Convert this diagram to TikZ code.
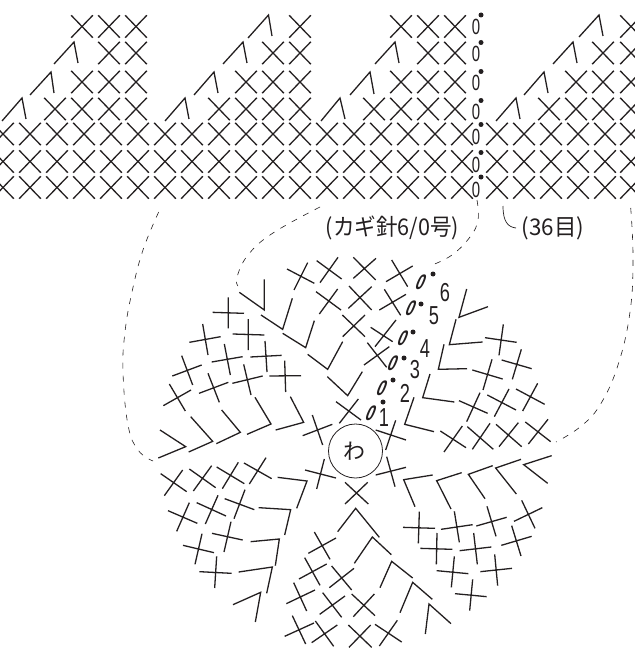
\documentclass[tikz,border=0pt]{standalone}
\usepackage{fontspec}
\setmainfont{Liberation Sans}
\newfontfamily\jpfont{Noto Sans CJK JP}
\definecolor{ink}{HTML}{231F20}
\tikzset{
  st/.style={draw=ink,line width=1.3pt,line cap=butt,line join=miter},
  dsh/.style={draw=ink,line width=.6pt,dash pattern=on 6pt off 7pt},
  zerotop/.style={inner sep=0pt,text=ink,font=\fontsize{22}{22}\selectfont,xscale=.68,transform shape},
  zeroob/.style={inner sep=0pt,text=ink,font=\bfseries\fontsize{21}{21}\selectfont,xslant=.42,xscale=.72,transform shape},
  numlab/.style={inner sep=0pt,text=ink,font=\fontsize{26}{26}\selectfont,xscale=.7,transform shape},
  dotm/.style={circle,fill=ink,inner sep=0pt,minimum size=5pt},
  lab/.style={inner sep=0pt,text=ink,transform shape}
}
\newcommand{\Xm}[2]{\draw[st] (#1-10.8,#2-11.2)--(#1+10.8,#2+11.2) (#1+10.8,#2-11.2)--(#1-10.8,#2+11.2);}
\begin{document}
\begin{tikzpicture}[x=1pt,y=-1pt]
\useasboundingbox (0,0) rectangle (634,671);
% --- flat chart ---
\foreach \y in {134,161.5,187.5} {
  \foreach \x in {3,30,57,84,111,138,165,192,219,246,273,300,327,354,381,408,435,462,497,524,551,578,605,631} {
    \Xm{\x}{\y}
  }
}
\foreach \x in {55,82,109,136,219,246,273,300,374,401,428,455,549,576,603,631} {\Xm{\x}{109}}
\foreach \x in {82,109,136,246,273,300,401,428,455,576,603,631} {\Xm{\x}{82}}
\foreach \x in {109,136,273,300,428,455,603,631} {\Xm{\x}{53}}
\foreach \x in {82,109,136,300,401,428,455,631} {\Xm{\x}{26.5}}
\draw[st] (248,38)--(268.5,15)--(272,36) (579,37)--(599,15)--(603,36)
 (54,64)--(74,42)--(78,63) (223,64)--(243,42)--(247,63) (375,64)--(395,42)--(399,63) (553,64)--(573,42)--(577,63)
 (30,95)--(51,72)--(54,93) (194,95)--(214,72)--(218,93) (350,95)--(370,72)--(374,94) (524,95)--(544,72)--(548,93)
 (2,121)--(22,98)--(26,119) (165,121)--(185,98)--(189,119) (321,121)--(340,98)--(345,119) (496,121)--(516,98)--(520,119);
\node[zerotop] (z1) at (476,27) {0};
\node[zerotop] (z2) at (476,53.5) {0};
\node[zerotop] (z3) at (476,83) {0};
\node[zerotop] (z4) at (476,112) {0};
\node[zerotop] (z5) at (476,137) {0};
\node[zerotop] (z6) at (476,164.5) {0};
\node[zerotop] (z7) at (476,190) {0};
\foreach \n/\y in {a/15,b/42.5,c/71.5,d/100.5,e/124.5,f/152.5,g/177} {
  \node[dotm] (dt\n) at (481,\y) {};
}
% --- dashed curves ---
\draw[dsh] plot[smooth,tension=.7] coordinates {(158.7,212) (143,250) (132,292) (125,332) (123,372) (128,425) (138,450) (153,461)};
\draw[dsh] plot[smooth,tension=.7] coordinates {(630.7,208) (633,258) (630,312) (618,365) (600,405) (580,427) (556,442)};
\draw[dsh] plot[smooth,tension=.7] coordinates {(320,207) (273,233) (248,255) (237,277) (238,286)};
\draw[dsh] plot[smooth,tension=.7] coordinates {(477,200) (478,220) (470,237) (452,255) (432,265)};
\draw[draw=ink,line width=.7pt] (503,206) .. controls (503,222) and (508,227) .. (516,228);
% --- labels ---
\node[lab,font=\jpfont\fontsize{20}{20}\selectfont,xscale=1.08,yscale=1.15] (needle) at (392.5,228) {(カギ針6/0号)};
\node[lab,font=\jpfont\fontsize{20}{20}\selectfont,xscale=1.12,yscale=1.15] (count) at (553,228) {(36目)};
% --- ring ---
\node[circle,draw=ink,line width=.8pt,minimum size=54pt,inner sep=0pt] (ring) at (355.5,451) {};
\node[lab,font=\jpfont\fontsize{22}{22}\selectfont] (wa) at (354.5,451) {わ};
% --- upper-left crop ---
\begin{scope}[shift={(130,240)},scale=1/3]
\draw[st] (471,87)--(553,130) (533,68)--(492,150)
 (560,62)--(635,117) (624,52)--(570,128)
 (558,155)--(633,210) (623,147)--(568,222)
 (403,118)--(403,210)--(328,157)
 (487,175)--(458,268)--(393,225)
 (553,242)--(527,323)--(458,280)
 (638,305)--(593,388)--(533,343)
 (697,395)--(653,467)--(592,410)
 (618,485)--(693,540) (685,477)--(628,550)
 (248,217)--(342,220) (295,172)--(295,265)
 (178,307)--(272,290) (218,252)--(234,345)
 (308,282)--(403,285) (355,237)--(355,330)
 (127,408)--(215,375) (155,347)--(188,435)
 (245,366)--(338,350) (283,312)--(301,405)
 (361,351)--(455,346) (405,303)--(411,396)
 (100,497)--(183,450) (118,432)--(166,513)
 (207,460)--(295,427) (234,400)--(268,487)
 (307,430)--(398,408) (341,373)--(363,465)
 (418,408)--(513,407) (464,362)--(467,456)
 (90,570)--(167,620)--(85,654)
 (182,530)--(248,604)--(176,636)
 (275,510)--(331,577)--(259,611)
 (375,472)--(423,552)--(351,583)
 (481,470)--(521,547)--(437,570)
 (518,587)--(607,553) (547,525)--(578,615);
\end{scope}
% --- upper-right crop ---
\begin{scope}[shift={(330,240)},scale=1/3]
\draw[st] (70,52)--(137,120) (70,115)--(138,55)
 (168,125)--(248,78) (185,60)--(233,140)
 (57,138)--(125,210) (55,205)--(125,140)
 (148,210)--(228,163) (163,148)--(212,226)
 (37,225)--(105,290) (38,290)--(105,225)
 (122,262)--(188,305) (198,240)--(135,320)
 (112,308)--(170,382) (178,320)--(102,375)
 (137,570)--(228,600) (197,541)--(167,630)
 (252,472)--(224,553)--(312,575)
 (300,402)--(278,473)--(373,486)
 (342,313)--(325,388)--(411,386)
 (378,238)--(358,314)--(458,306)
 (410,147)--(387,232)--(474,200)
 (465,293)--(560,307) (520,253)--(507,346)
 (515,360)--(605,386) (574,328)--(547,418)
 (427,390)--(518,417) (486,358)--(459,450)
 (558,447)--(644,493) (623,430)--(578,513)
 (472,465)--(558,510) (537,447)--(493,530)
 (387,482)--(473,520) (450,458)--(410,545)
 (586,546)--(662,605) (654,538)--(595,612)
 (498,553)--(575,620) (565,548)--(507,620)
 (412,560)--(490,628) (480,550)--(427,628)
 (331,573)--(408,623) (397,558)--(342,636);
\end{scope}
% --- lower-left crop ---
\begin{scope}[shift={(130,440)},scale=1/3]
\draw[st] (92,101)--(170,155) (158,90)--(103,167)
 (178,87)--(257,143) (245,77)--(190,153)
 (260,81)--(343,131) (325,67)--(277,146)
 (342,69)--(425,116) (408,53)--(358,132)
 (443,112)--(531,123)--(500,205)
 (525,90)--(618,114) (583,57)--(560,147)
 (114,212)--(202,250) (178,188)--(140,274)
 (200,188)--(288,228) (264,166)--(226,252)
 (284,176)--(373,209) (345,149)--(312,236)
 (386,203)--(482,209)--(464,285)
 (159,316)--(252,338) (216,281)--(195,373)
 (246,280)--(338,300) (303,245)--(282,336)
 (362,305)--(448,297)--(436,377)
 (208,395)--(305,400) (260,349)--(254,444)
 (326,396)--(427,381)--(410,460)
 (309,494)--(392,457)--(376,546)
 (623,275)--(677,205)--(748,292)
 (553,276)--(600,358) (618,294)--(535,340)
 (524,353)--(570,436) (590,372)--(507,417)
 (605,378)--(665,450) (672,385)--(598,443)
 (491,428)--(530,513) (555,450)--(469,491)
 (578,458)--(635,532) (645,468)--(569,523)
 (487,527)--(527,612) (552,549)--(464,589)
 (556,543)--(611,619) (622,555)--(545,608);
\end{scope}
% --- lower-right crop ---
\begin{scope}[shift={(340,440)},scale=1/3]
\draw[st] (15,127)--(85,192) (83,127)--(15,192)
 (43,370)--(97,291)--(154,344)
 (120,443)--(155,364)--(218,414)
 (180,518)--(218,427)--(277,478)
 (256,582)--(267,492)--(333,551)
 (35,462)--(105,527) (103,462)--(40,530)
 (25,555)--(95,622) (92,555)--(27,622)
 (105,553)--(185,606) (172,541)--(118,618)
 (107,105)--(198,82) (140,50)--(165,140)
 (278,105)--(191,119)--(225,200)
 (365,98)--(290,122)--(333,207)
 (458,77)--(385,103)--(435,176)
 (543,58)--(467,84)--(529,162)
 (635,47)--(551,74)--(623,130)
 (189,262)--(285,265) (238,215)--(235,310)
 (303,268)--(398,254) (343,214)--(358,307)
 (409,258)--(500,232) (441,199)--(468,289)
 (522,244)--(607,203) (545,181)--(585,265)
 (241,325)--(337,328) (291,279)--(289,373)
 (359,332)--(454,321) (401,279)--(412,373)
 (484,316)--(575,289) (515,257)--(543,348)
 (290,392)--(385,401) (343,349)--(334,442)
 (421,395)--(516,385) (464,343)--(473,437)
 (345,461)--(440,470) (398,418)--(389,512);
\end{scope}
% --- round numbers ---
\node[numlab] (n1) at (384,418) {1};
\node[numlab] (n2) at (405,393) {2};
\node[numlab] (n3) at (415,370) {3};
\node[numlab] (n4) at (425,349) {4};
\node[numlab] (n5) at (434,316) {5};
\node[numlab] (n6) at (445,293) {6};
\node[zeroob] (o1) at (371,413) {0};
\node[zeroob] (o2) at (382,388) {0};
\node[zeroob] (o3) at (393,363) {0};
\node[zeroob] (o4) at (403,338) {0};
\node[zeroob] (o5) at (411,308) {0};
\node[zeroob] (o6) at (421,282) {0};
\foreach \n/\x/\y in {a/383/402,b/393/380,c/404/358,d/413/332,e/421/304,f/433/274} {
  \node[dotm] (rd\n) at (\x,\y) {};
}
\end{tikzpicture}
\end{document}
